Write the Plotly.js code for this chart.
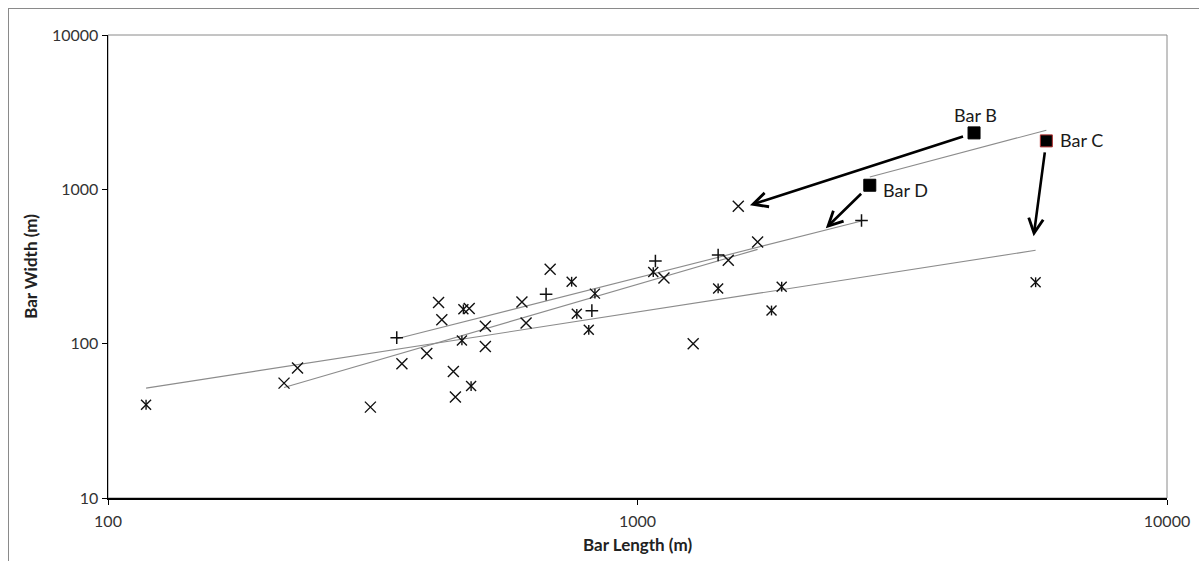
<!DOCTYPE html>
<html><head><meta charset="utf-8">
<script src="https://cdn.plot.ly/plotly-3.0.1.min.js"></script>
<style>
html,body{margin:0;padding:0;background:#fff;}
#chart{width:1199px;height:561px;}
#frame{position:absolute;left:8px;top:8px;width:1220px;height:600px;border:1px solid #8a8a8a;pointer-events:none;}
</style>
</head><body>
<div id="chart"></div><div id="frame"></div>
<script>
// Series shown with "x" markers
const crossX = [215, 228, 313, 359, 400, 421, 427, 449, 453, 481, 516, 516, 605, 616, 684, 1122, 1274, 1484, 1550, 1686];
const crossY = [55.5, 69.5, 38.8, 74.2, 86.5, 185, 143, 66.1, 45.1, 169, 129.5, 96, 186, 136, 303, 266, 100, 347, 777, 456];
// Series shown with star (x + vertical bar) markers
const starX = [118, 466, 469, 485, 751, 768, 809, 831, 1071, 1420, 1791, 1872, 5648];
const starY = [40.2, 105, 167, 53.1, 252, 156, 123, 211, 291, 228, 164, 234, 250];
// Series shown with "+" markers
const plusX = [351, 672, 820, 1081, 1420, 2649];
const plusY = [109.4, 209.4, 163.7, 343, 375.5, 628];
// Highlighted bars
const barNames = ["Bar B", "Bar D", "Bar C"];
const barX = [4321, 2746, 5917];
const barY = [2321, 1063, 2060];
// Arrow targets (from each bar)
const arrowToX = [1631, 2268, 5599];
const arrowToY = [788.5, 559.5, 496.5];
// Power trendlines y = a * x^b  (cross, star, plus, bars)
const trendA = [0.2411, 4.079, 0.6557, 0.9045];
const trendB = [1.0006, 0.5316, 0.8701, 0.9085];
// Axis ticks
const xTicks = [100, 1000, 10000];
const xTickText = ["100", "1000", "10000"];
const yTicks = [10, 100, 1000, 10000];
const yTickText = ["10", "100", "1000", "10000"];

const FONT = "Lato, 'Open Sans', sans-serif";

function trend(xs, a, b) {
  const lo = Math.min(...xs), hi = Math.max(...xs);
  return {x: [lo, hi], y: [a * Math.pow(lo, b), a * Math.pow(hi, b)]};
}
const seriesX = [crossX, starX, plusX, barX];
const traces = [];
seriesX.forEach((xs, i) => {
  const t = trend(xs, trendA[i], trendB[i]);
  traces.push({x: t.x, y: t.y, mode: 'lines', type: 'scatter',
    line: {color: '#8c8c8c', width: 1.1}, hoverinfo: 'skip'});
});
const mk = {color: '#111', width: 1.4};
traces.push({x: crossX, y: crossY, mode: 'markers', type: 'scatter',
  marker: {symbol: 'x-thin-open', size: 11, color: '#111', line: mk}});
traces.push({x: starX, y: starY, mode: 'markers', type: 'scatter',
  marker: {symbol: 'x-thin-open', size: 10, color: '#111', line: mk}});
traces.push({x: starX, y: starY, mode: 'markers', type: 'scatter',
  marker: {symbol: 'line-ns-open', size: 7, color: '#111', line: mk}});
traces.push({x: plusX, y: plusY, mode: 'markers', type: 'scatter',
  marker: {symbol: 'cross-thin-open', size: 9, color: '#111', line: {color: '#111', width: 1.5}}});
traces.push({x: barX, y: barY, mode: 'markers', type: 'scatter',
  marker: {symbol: 'square', size: 12, color: '#000',
    line: {color: ['#000', '#000', '#b03030'], width: 1}}});

const annotations = [];
const labelPos = [
  {xanchor: 'center', yanchor: 'bottom', xshift: 1, yshift: 5},
  {xanchor: 'left', yanchor: 'middle', xshift: 11, yshift: -5},
  {xanchor: 'left', yanchor: 'middle', xshift: 12, yshift: 1}
];
barNames.forEach((n, i) => {
  annotations.push(Object.assign({
    x: Math.log10(barX[i]), y: Math.log10(barY[i]), xref: 'x', yref: 'y',
    text: n, showarrow: false, font: {family: FONT, size: 18, color: '#1a1a1a'}
  }, labelPos[i]));
  annotations.push({
    x: Math.log10(arrowToX[i]), y: Math.log10(arrowToY[i]), xref: 'x', yref: 'y',
    ax: Math.log10(barX[i]), ay: Math.log10(barY[i]), axref: 'x', ayref: 'y',
    text: '', showarrow: true, arrowhead: 5, arrowsize: 1.1, arrowwidth: 2.6,
    arrowcolor: '#000', startstandoff: 10, standoff: 0
  });
});

const layout = {
  width: 1199, height: 561,
  margin: {l: 108, r: 32, t: 35, b: 63, pad: 0},
  paper_bgcolor: '#fff', plot_bgcolor: '#fff',
  showlegend: false,
  xaxis: {
    type: 'log', range: [2, 4], tickmode: 'array', tickvals: xTicks, ticktext: xTickText,
    ticks: 'outside', ticklen: 5, tickwidth: 1, tickcolor: '#000',
    showline: true, linecolor: '#000', linewidth: 1.5, showgrid: false, zeroline: false,
    tickfont: {family: FONT, size: 16, color: '#333'},
    ticklabelstandoff: 3,
    title: {text: '<b>Bar Length (m)</b>', font: {family: FONT, size: 17, color: '#222'}, standoff: 10}
  },
  yaxis: {
    type: 'log', range: [1, 4], tickmode: 'array', tickvals: yTicks, ticktext: yTickText,
    ticks: 'outside', ticklen: 5, tickwidth: 1, tickcolor: '#000',
    showline: true, linecolor: '#000', linewidth: 1.5, showgrid: false, zeroline: false,
    tickfont: {family: FONT, size: 16, color: '#333'},
    title: {text: '<b>Bar Width (m)</b>', font: {family: FONT, size: 17, color: '#222'}, standoff: 10}
  },
  shapes: [{type: 'rect', xref: 'paper', yref: 'paper', x0: 0, x1: 1, y0: 0, y1: 1,
    line: {color: '#8a8a8a', width: 1}, layer: 'below'}],
  annotations: annotations
};
Plotly.newPlot('chart', traces, layout, {displayModeBar: false, staticPlot: true});
</script>
</body></html>
